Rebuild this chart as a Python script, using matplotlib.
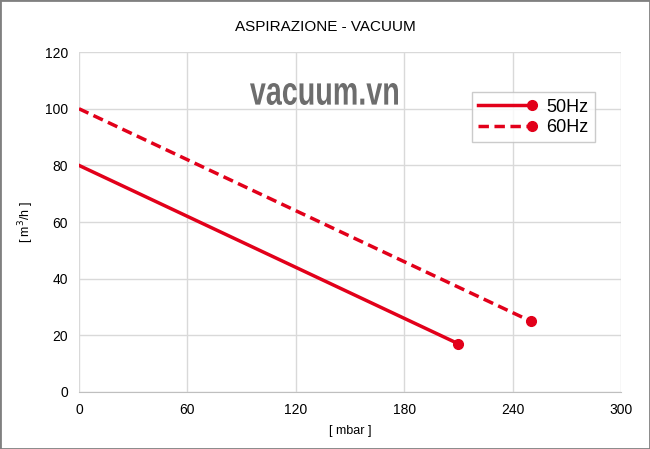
import matplotlib.pyplot as plt
from matplotlib.legend_handler import HandlerLine2D
from matplotlib.lines import Line2D
from matplotlib.textpath import TextPath
from matplotlib.font_manager import FontProperties
from matplotlib.patches import PathPatch
from matplotlib.transforms import Affine2D, IdentityTransform

plt.rcParams['font.family'] = ['Liberation Sans', 'DejaVu Sans']

# data
pressure_50 = [0, 210]
flow_50 = [80, 17]
pressure_60 = [0, 250]
flow_60 = [100, 25]
x_ticks = [0, 60, 120, 180, 240, 300]
y_ticks = [0, 20, 40, 60, 80, 100, 120]

red = '#e2001a'


class EndMarkerHandler(HandlerLine2D):
    # line sample with the marker at its right end
    def create_artists(self, legend, orig_handle, xdescent, ydescent,
                       width, height, fontsize, trans):
        y = height / 2 - ydescent
        x0, x1 = -xdescent, -xdescent + width
        line = Line2D([x0, x1], [y, y])
        self.update_prop(line, orig_handle, legend)
        line.set_marker('None')
        line.set_markevery(None)
        mk = Line2D([x1], [y])
        self.update_prop(mk, orig_handle, legend)
        mk.set_markevery(None)
        mk.set_linestyle('None')
        line.set_transform(trans)
        mk.set_transform(trans)
        return [line, mk]


fig = plt.figure(figsize=(6.5, 4.49), dpi=100)
ax = fig.add_axes([0.1215, 0.127, 0.834, 0.757])

l50, = ax.plot(pressure_50, flow_50, color=red, lw=2.5, marker='o', markersize=7,
               markevery=[1], label='50Hz')
l60, = ax.plot(pressure_60, flow_60, color=red, lw=2.5, ls=(0, (3, 1.6)), marker='o',
               markersize=7, markevery=[1], label='60Hz')

ax.set_xlim(0, 300)
ax.set_ylim(0, 120)
ax.set_xticks(x_ticks)
ax.set_yticks(y_ticks)
ax.grid(True, color='#d9d9d9', lw=1)
ax.set_axisbelow(True)
for side in ['top', 'right', 'left']:
    ax.spines[side].set_visible(False)
ax.spines['bottom'].set_color('#bfbfbf')
ax.tick_params(length=0, labelsize=10, colors='#000000', pad=8)

ax.set_xlabel('[ mbar ]', fontsize=9, labelpad=6)
ax.set_ylabel('[ m$^3$/h ]', fontsize=9, labelpad=6)
fig.suptitle('ASPIRAZIONE - VACUUM', fontsize=11, y=0.955)

# condensed watermark, squeezed into its box (pixels, origin bottom-left)
wm = TextPath((0, 0), 'vacuum.vn', size=40,
              prop=FontProperties(family='Liberation Sans', weight='bold'))
ext = wm.get_extents()
box_x0, box_x1, box_y0, box_y1 = 250, 398, 344, 366
sx = (box_x1 - box_x0) / ext.width
sy = (box_y1 - box_y0) / ext.height
wm_tr = Affine2D().translate(-ext.x0, -ext.y0).scale(sx, sy).translate(box_x0, box_y0)
fig.patches.append(PathPatch(wm_tr.transform_path(wm), transform=IdentityTransform(),
                             facecolor='#6d6d6d', edgecolor='none', figure=fig))

leg = ax.legend(handles=[l50, l60], loc='upper right', bbox_to_anchor=(0.952, 0.882),
                borderaxespad=0, fontsize=13, frameon=True, fancybox=False,
                edgecolor='#bfbfbf', handlelength=3, borderpad=0.35, labelspacing=0.2,
                handletextpad=0.8,
                handler_map={l50: EndMarkerHandler(), l60: EndMarkerHandler()})
leg.get_frame().set_linewidth(1)

fig.patches.append(plt.Rectangle((0, 0), 1, 1, transform=fig.transFigure,
                                 fill=False, edgecolor='#808080', lw=2))

fig.savefig('out.png', dpi=100)
